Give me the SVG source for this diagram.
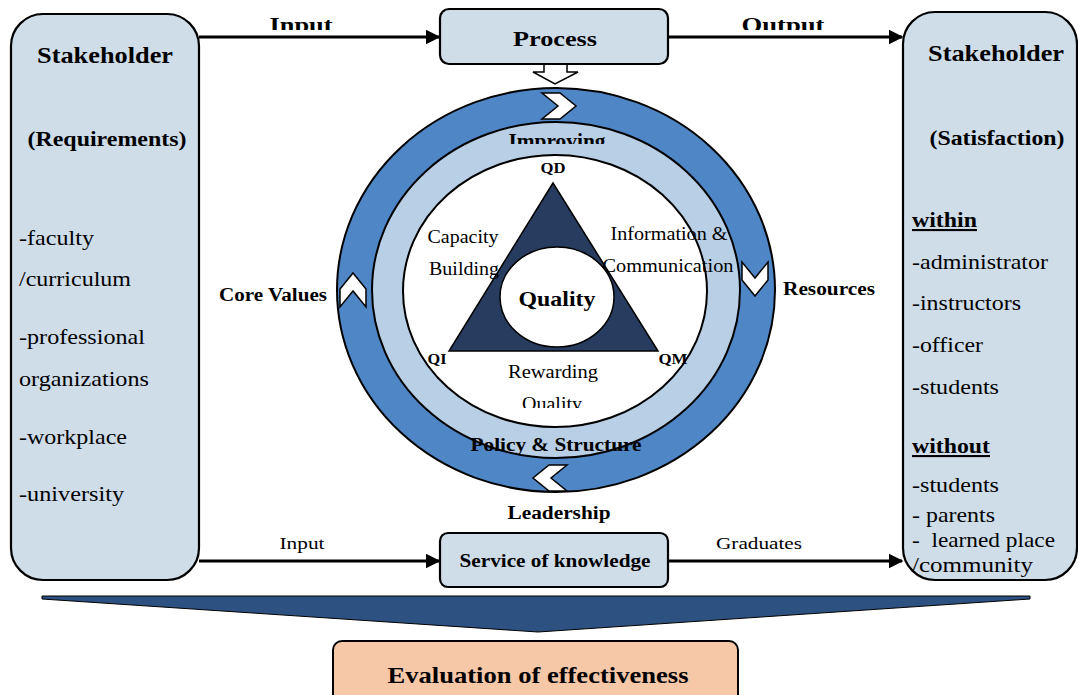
<svg xmlns="http://www.w3.org/2000/svg" width="1078" height="695" viewBox="0 0 1078 695">
<defs>
<style>
.box{fill:#cfdde9;stroke:#000;stroke-width:2.2}
.t{font-family:"Liberation Serif","Times New Roman",serif;fill:#000}
.b{font-weight:bold}
.conn{stroke:#000;stroke-width:3;fill:none}
.chev{fill:#fff;stroke:#000;stroke-width:1.5}
</style>
<marker id="arr" viewBox="0 0 10 10" refX="9" refY="5" markerWidth="5" markerHeight="5" orient="auto" markerUnits="strokeWidth">
<path d="M0,0 L10,5 L0,10 z" fill="#000"/>
</marker>
<path id="chevron" d="M-17,-13 L1,-13 L17,0 L1,13 L-17,13 L-1,0 Z"/>
<clipPath id="clipTop"><rect x="0" y="0" width="1078" height="30"/></clipPath>
<clipPath id="clipImp"><rect x="400" y="120" width="300" height="24"/></clipPath>
<clipPath id="clipRq"><rect x="400" y="380" width="300" height="28"/></clipPath>
</defs>
<rect width="1078" height="695" fill="#fff"/>

<g id="connectors">
<line class="conn" x1="199" y1="37" x2="439" y2="37" marker-end="url(#arr)"/>
<line class="conn" x1="668" y1="37" x2="902" y2="37" marker-end="url(#arr)"/>
<line class="conn" x1="199" y1="561" x2="439" y2="561" marker-end="url(#arr)"/>
<line class="conn" x1="668" y1="561" x2="902" y2="561" marker-end="url(#arr)"/>
<g clip-path="url(#clipTop)">
<text class="t b" x="301" y="32" font-size="21" text-anchor="middle" textLength="63" lengthAdjust="spacingAndGlyphs">Input</text>
<text class="t b" x="783" y="32" font-size="21" text-anchor="middle" textLength="83" lengthAdjust="spacingAndGlyphs">Output</text>
</g>
<text class="t" x="302" y="549" font-size="17" text-anchor="middle" textLength="45" lengthAdjust="spacingAndGlyphs">Input</text>
<text class="t" x="759" y="549" font-size="17" text-anchor="middle" textLength="86" lengthAdjust="spacingAndGlyphs">Graduates</text>
<path d="M544,64 L544,72 L533,72 L555,84 L578,72 L567,72 L567,64" fill="#fff" stroke="#000" stroke-width="1.5"/>
</g>

<g id="stakeholder-left">
<rect class="box" x="11" y="14" width="188" height="566" rx="32"/>
<text class="t b" x="105" y="63" font-size="23" text-anchor="middle" textLength="136" lengthAdjust="spacingAndGlyphs">Stakeholder</text>
<text class="t b" x="107" y="146" font-size="20" text-anchor="middle" textLength="159" lengthAdjust="spacingAndGlyphs">(Requirements)</text>
<g class="t" font-size="21">
<text x="19" y="245" textLength="75" lengthAdjust="spacingAndGlyphs">-faculty</text>
<text x="19" y="286" textLength="112" lengthAdjust="spacingAndGlyphs">/curriculum</text>
<text x="19" y="344" textLength="126" lengthAdjust="spacingAndGlyphs">-professional</text>
<text x="19" y="386" textLength="130" lengthAdjust="spacingAndGlyphs">organizations</text>
<text x="19" y="444" textLength="108" lengthAdjust="spacingAndGlyphs">-workplace</text>
<text x="19" y="501" textLength="105" lengthAdjust="spacingAndGlyphs">-university</text>
</g>
</g>

<g id="stakeholder-right">
<rect class="box" x="903" y="12" width="174" height="568" rx="32"/>
<text class="t b" x="996" y="61" font-size="23" text-anchor="middle" textLength="136" lengthAdjust="spacingAndGlyphs">Stakeholder</text>
<text class="t b" x="997" y="145" font-size="20" text-anchor="middle" textLength="135" lengthAdjust="spacingAndGlyphs">(Satisfaction)</text>
<g class="t" font-size="21">
<text x="912" y="227" font-weight="bold" text-decoration="underline" textLength="65" lengthAdjust="spacingAndGlyphs">within</text>
<text x="912" y="269" textLength="136" lengthAdjust="spacingAndGlyphs">-administrator</text>
<text x="912" y="310" textLength="109" lengthAdjust="spacingAndGlyphs">-instructors</text>
<text x="912" y="352" textLength="71" lengthAdjust="spacingAndGlyphs">-officer</text>
<text x="912" y="394" textLength="87" lengthAdjust="spacingAndGlyphs">-students</text>
<text x="912" y="453" font-weight="bold" text-decoration="underline" textLength="78" lengthAdjust="spacingAndGlyphs">without</text>
<text x="912" y="492" textLength="87" lengthAdjust="spacingAndGlyphs">-students</text>
<text x="912" y="522" textLength="83" lengthAdjust="spacingAndGlyphs">- parents</text>
<text x="912" y="547" xml:space="preserve" textLength="143" lengthAdjust="spacingAndGlyphs">-  learned place</text>
<text x="912" y="572" textLength="121" lengthAdjust="spacingAndGlyphs">/community</text>
</g>
</g>

<g id="process">
<rect class="box" x="440" y="9" width="228" height="55" rx="9"/>
<text class="t b" x="555" y="46" font-size="22" text-anchor="middle" textLength="84" lengthAdjust="spacingAndGlyphs">Process</text>
</g>

<g id="cycle">
<ellipse cx="556" cy="290" rx="219" ry="202" fill="#4f86c6" stroke="#000" stroke-width="2"/>
<ellipse cx="556" cy="290" rx="184" ry="168" fill="#b8cfe6" stroke="#000" stroke-width="2"/>
<ellipse cx="555" cy="291" rx="152" ry="136" fill="#fff" stroke="#000" stroke-width="2"/>
<use href="#chevron" class="chev" transform="translate(559,106)"/>
<use href="#chevron" class="chev" transform="translate(755,279) rotate(90)"/>
<use href="#chevron" class="chev" transform="translate(550,478) rotate(180)"/>
<use href="#chevron" class="chev" transform="translate(353,290) rotate(-90)"/>
<text class="t b" x="557" y="148" font-size="20" text-anchor="middle" clip-path="url(#clipImp)" textLength="97" lengthAdjust="spacingAndGlyphs">Improving</text>
<text class="t b" x="556" y="451" font-size="19" text-anchor="middle" textLength="171" lengthAdjust="spacingAndGlyphs">Policy &amp; Structure</text>
</g>

<g id="quality">
<polygon points="553,183 449,351 658,351" fill="#283c60" stroke="#000" stroke-width="1.5"/>
<ellipse cx="557" cy="297" rx="57" ry="50" fill="#fff" stroke="#000" stroke-width="1.5"/>
<text class="t b" x="557" y="306" font-size="22" text-anchor="middle" textLength="77" lengthAdjust="spacingAndGlyphs">Quality</text>
<text class="t b" x="553" y="173" font-size="15" text-anchor="middle" textLength="25" lengthAdjust="spacingAndGlyphs">QD</text>
<text class="t b" x="437" y="364" font-size="15" text-anchor="middle" textLength="19" lengthAdjust="spacingAndGlyphs">QI</text>
<text class="t b" x="673" y="364" font-size="15" text-anchor="middle" textLength="29" lengthAdjust="spacingAndGlyphs">QM</text>
<g class="t" font-size="18" text-anchor="middle">
<text x="463" y="243" textLength="71" lengthAdjust="spacingAndGlyphs">Capacity</text>
<text x="464" y="275" textLength="70" lengthAdjust="spacingAndGlyphs">Building</text>
<text x="669" y="240" textLength="117" lengthAdjust="spacingAndGlyphs">Information &amp;</text>
<text x="668" y="272" textLength="131" lengthAdjust="spacingAndGlyphs">Communication</text>
<text x="553" y="378" textLength="90" lengthAdjust="spacingAndGlyphs">Rewarding</text>
<text x="552" y="410" textLength="60" lengthAdjust="spacingAndGlyphs" clip-path="url(#clipRq)">Quality</text>
</g>
</g>

<g id="labels">
<text class="t b" x="273" y="301" font-size="18" text-anchor="middle" textLength="108" lengthAdjust="spacingAndGlyphs">Core Values</text>
<text class="t b" x="829" y="295" font-size="18" text-anchor="middle" textLength="92" lengthAdjust="spacingAndGlyphs">Resources</text>
<text class="t b" x="559" y="519" font-size="18" text-anchor="middle" textLength="103" lengthAdjust="spacingAndGlyphs">Leadership</text>
</g>

<g id="service">
<rect class="box" x="440" y="533" width="228" height="54" rx="8"/>
<text class="t b" x="555" y="567" font-size="18" text-anchor="middle" textLength="191" lengthAdjust="spacingAndGlyphs">Service of knowledge</text>
</g>

<g id="funnel">
<polygon points="42,596 1030,596 1030,599 538,632 42,599" fill="#2d5180" stroke="#000" stroke-width="1"/>
</g>

<g id="evaluation">
<rect x="333" y="641" width="405" height="62" rx="9" fill="#f7c8a8" stroke="#000" stroke-width="2"/>
<text class="t b" x="538" y="683" font-size="23" text-anchor="middle" textLength="301" lengthAdjust="spacingAndGlyphs">Evaluation of effectiveness</text>
</g>
</svg>
